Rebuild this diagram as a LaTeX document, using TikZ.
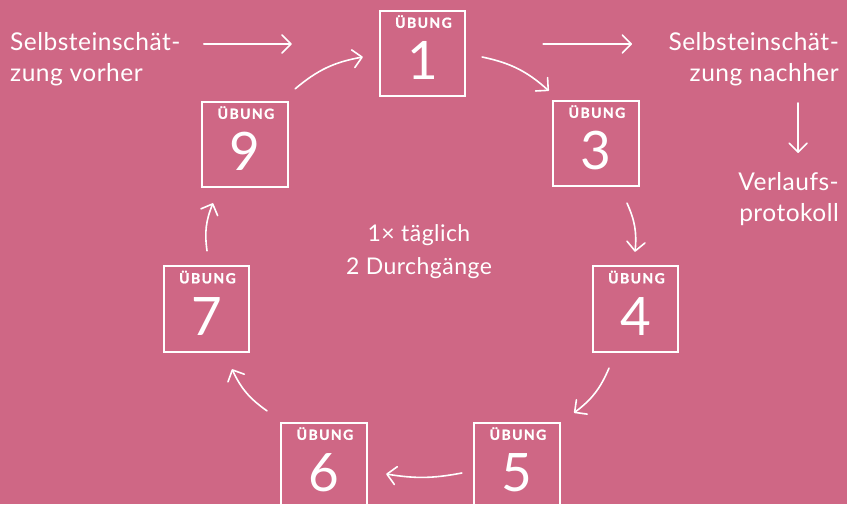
\documentclass[tikz,border=0pt]{standalone}
\usepackage{fontspec}
\setmainfont{Lato}[LetterSpace=2]
\newfontfamily\ubfont[LetterSpace=10,BoldFeatures={FakeBold=1.3}]{Lato}
\usetikzlibrary{arrows.meta,calc}
\definecolor{bg}{RGB}{207,103,133}
\tikzset{
  ubox/.style={draw=white, line width=1.8pt, minimum size=85.5pt, inner sep=0pt},
  ubt/.style={text=white, inner sep=0pt, anchor=base, font=\ubfont\bfseries\fontsize{14}{14}\selectfont},
  unum/.style={text=white, inner sep=0pt, anchor=base, font=\fontsize{53}{53}\selectfont},
  lbl/.style={text=white, inner sep=0pt, font=\fontsize{24.5}{31}\selectfont},
  clbl/.style={text=white, inner sep=0pt, font=\fontsize{23}{33}\selectfont},
  arr/.style={draw=white, line width=1.6pt, line cap=round, -{Straight Barb[length=9pt,width=18pt,round]}},
}
\newcommand\uebung[3]{%
  \node[ubox] (#1) at (#2) {};
  \node[ubt] (#1t) at ($(#1.north)+(1,-18)$) {ÜBUNG};
  \node[unum] (#1n) at ($(#1.north)+(0,-70)$) {#3};
}
\begin{document}
\begin{tikzpicture}[x=1pt,y=1pt]
\fill[bg] (0,0) rectangle (847,504);
\useasboundingbox (0,0) rectangle (847,504);
\uebung{b1}{422.5,450.5}{1}
\uebung{b9}{245,359.5}{9}
\uebung{b3}{596,360.5}{3}
\uebung{b7}{206.5,195}{7}
\uebung{b4}{635.5,195}{4}
\uebung{b6}{324,38.5}{6}
\uebung{b5}{517,38.5}{5}
% texts
\node[lbl, anchor=base west, align=left] (vorher) at (10,422) {Selbsteinschät-\\zung vorher};
\node[lbl, anchor=base east, align=right] (nachher) at (839,422) {Selbsteinschät-\\zung nachher};
\node[lbl, anchor=base east, align=right] (verlauf) at (839,282) {Verlaufs-\\protokoll};
\node[clbl, anchor=base, align=center] (mitte) at (419,229) {1× täglich\\2 Durchgänge};
% arrows
\draw[arr] ($(b1.west)+(-175,9.5)$) -- ($(b1.west)+(-87,9.5)$);
\draw[arr] ($(b1.east)+(77,9.5)$) -- ($(b1.east)+(166,9.5)$);
\draw[arr] ($(b3.east)+(158.5,40.5)$) -- ($(b3.east)+(158.5,-9.5)$);
\draw[arr] ($(b9.north east)+(6.5,12)$) to[bend left=15] ($(b1.west)+(-16,-3.5)$);
\draw[arr] ($(b1.east)+(16,-3.5)$) to[bend left=15] ($(b3.north west)+(-3.5,9)$);
\draw[arr] ($(b3.south)+(31,-16)$) to[bend left=15] ($(b4.north)+(-0.5,13.5)$);
\draw[arr] ($(b4.south)+(-26.5,-15.5)$) to[bend left=15] ($(b5.north)+(57,9)$);
\draw[arr] ($(b5.west)+(-11.5,-7.5)$) to[bend left=10] ($(b6.east)+(18.5,-8.5)$);
\draw[arr] ($(b6.north)+(-57,11)$) to[bend left=15] ($(b7.south)+(25.5,-16.5)$);
\draw[arr] ($(b7.north)+(0.5,14.5)$) to[bend left=15] ($(b9.south)+(-32,-15)$);
\end{tikzpicture}
\end{document}
